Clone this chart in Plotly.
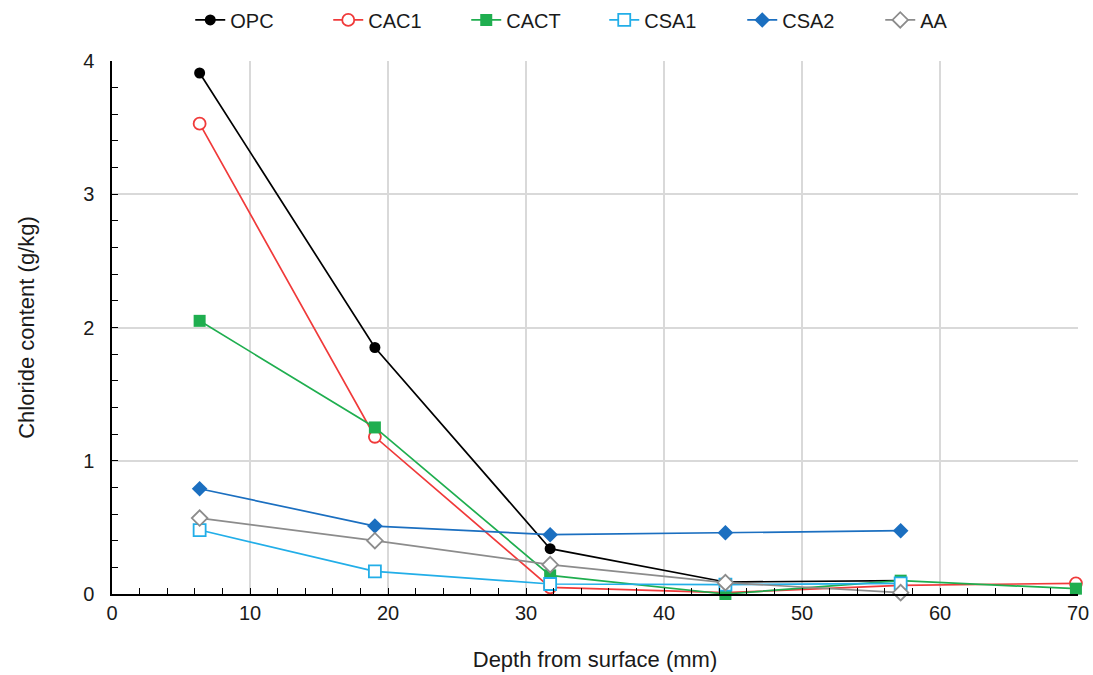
import plotly.graph_objects as go

depth = [6.35, 19.05, 31.75, 44.45, 57.15, 69.85]

series_names = ["OPC", "CAC1", "CACT", "CSA1", "CSA2", "AA"]
opc = [3.91, 1.85, 0.34, 0.09, 0.10]
cac1 = [3.53, 1.18, 0.05, 0.01, 0.065, 0.08]
cact = [2.05, 1.25, 0.14, 0.0, 0.10, 0.04]
csa1 = [0.48, 0.17, 0.075, 0.07, 0.08]
csa2 = [0.79, 0.51, 0.445, 0.46, 0.475]
aa = [0.57, 0.40, 0.22, 0.085, 0.01]

values = [opc, cac1, cact, csa1, csa2, aa]
colors = ["#000000", "#f03a3a", "#1fae4f", "#22aee8", "#1b6fc0", "#8c8c8c"]
symbols = ["circle", "circle-open", "square", "square-open", "diamond", "diamond-open"]
sizes = [11, 12, 12, 12, 12, 12]

fig = go.Figure()
for name, vals, col, sym, sz in zip(series_names, values, colors, symbols, sizes):
    open_ = sym.endswith("open")
    fig.add_trace(go.Scatter(
        x=depth[:len(vals)], y=vals, name=name, mode="lines+markers",
        line=dict(color=col, width=1.7),
        marker=dict(symbol=sym.replace("-open", ""), size=sz,
                    color="white" if open_ else col,
                    line=dict(color=col, width=1.8 if open_ else 0)),
        cliponaxis=False,
    ))

fig.update_layout(
    width=1093, height=675,
    margin=dict(l=112, r=15, t=61, b=81, autoexpand=False),
    paper_bgcolor="white", plot_bgcolor="white",
    font=dict(family="Liberation Sans, Arial, sans-serif", size=20, color="#1a1a1a"),
    legend=dict(orientation="h", x=0.081, xanchor="left", y=1.077, yanchor="middle",
                font=dict(size=20), entrywidth=93, itemwidth=30),
    showlegend=True,
)
fig.update_xaxes(
    range=[0, 70], dtick=10, showgrid=True, gridcolor="#d9d9d9", gridwidth=1.6,
    showline=True, linecolor="black", linewidth=1.5, mirror=False,
    ticks="inside", ticklen=6, tickcolor="black", zeroline=False,
    minor=dict(dtick=2, ticks="inside", ticklen=6, tickcolor="black", showgrid=False),
    title=dict(text="Depth from surface (mm)", font=dict(size=22), standoff=29),
    tickfont=dict(size=20),
)
fig.update_yaxes(
    range=[0, 4], dtick=1, showgrid=True, gridcolor="#d9d9d9", gridwidth=1.6,
    showline=True, linecolor="black", linewidth=1.5,
    ticks="inside", ticklen=6, tickcolor="black", zeroline=False,
    minor=dict(dtick=0.2, ticks="inside", ticklen=6, tickcolor="black", showgrid=False),
    title=dict(text="Chloride content (g/kg)", font=dict(size=22), standoff=42),
    tickfont=dict(size=20), ticklabelstandoff=12,
)

fig.write_html("out.html", config={"displayModeBar": False},
               post_script="document.body.style.margin='0';")
